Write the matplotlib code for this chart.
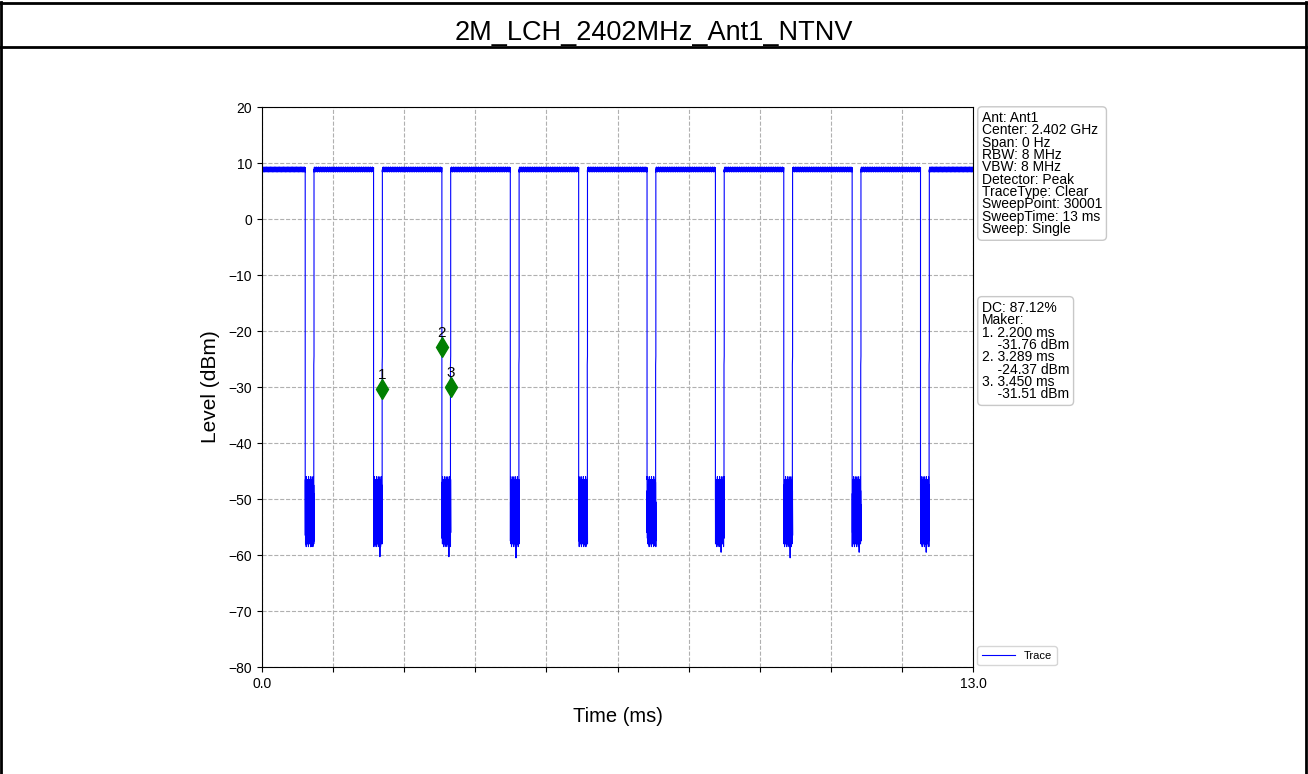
import numpy as np
import matplotlib
matplotlib.use('Agg')
import matplotlib.pyplot as plt
from matplotlib.lines import Line2D

plt.rcParams['font.family'] = ['Liberation Sans', 'DejaVu Sans']

# ---- data ----
title = "2M_LCH_2402MHz_Ant1_NTNV"
sweep_time_ms = 13.0
high_level = 8.8
high_ripple = [8.4, 9.2, 8.5, 9.3, 8.6, 9.1]
gap_start_ms = [0.79, 2.04, 3.289, 4.54, 5.79, 7.04, 8.29, 9.54, 10.79, 12.04]
gap_width_ms = 0.161
gap_edge_level = [-47.0, -46.5, -46.0, -46.0, -46.0, -46.5, -46.0, -46.5, -46.0, -46.5]
gap_floor_min = [-58.5, -60.3, -60.3, -60.5, -58.2, -58.3, -59.5, -60.5, -59.5, -59.5]
noise_upper = [-48.0, -46.5, -49.5, -47.0, -50.5, -46.0, -48.5, -51.0, -47.5, -49.0]
noise_lower = [-56.5, -58.0, -55.5, -57.5, -58.5, -56.0, -57.0, -55.0, -58.0, -57.5]
kink_level = [-26.0, -24.5]

marker_time_ms = [2.200, 3.289, 3.450]
marker_level = [-31.76, -24.37, -31.51]
marker_plot_level = [-30.3, -22.9, -30.0]
marker_ids = ["1", "2", "3"]

info_lines = ["Ant: Ant1", "Center: 2.402 GHz", "Span: 0 Hz", "RBW: 8 MHz",
              "VBW: 8 MHz", "Detector: Peak", "TraceType: Clear",
              "SweepPoint: 30001", "SweepTime: 13 ms", "Sweep: Single"]
duty_cycle = "87.12%"

yticks = [20, 10, 0, -10, -20, -30, -40, -50, -60, -70, -80]


def build_trace():
    t, v = [0.0], [high_level]
    prev = 0.0
    for k, g0 in enumerate(gap_start_ms):
        # ripple on the high level
        seg = np.linspace(prev, g0, 200)
        for i, ts in enumerate(seg):
            t.append(ts)
            v.append(high_ripple[i % len(high_ripple)])
        g1 = g0 + gap_width_ms
        t += [g0, g0]
        v += [high_level, gap_edge_level[k]]
        n = 80
        ts = np.linspace(g0, g1, n)
        for i in range(n):
            t.append(ts[i])
            if i % 2 == 0:
                v.append(noise_upper[(i // 2 + k) % len(noise_upper)])
            else:
                v.append(noise_lower[(i // 2 + 3 * k) % len(noise_lower)])
        # deepest dip of this gap
        mid = 50 + (k % 3) * 6
        v[-n + mid + 1] = gap_floor_min[k]
        t += [g1 - 0.004, g1 - 0.004, g1, g1]
        v += [gap_edge_level[k], kink_level[0], kink_level[1], high_level]
        prev = g1
    seg = np.linspace(prev, sweep_time_ms, 200)
    for i, ts in enumerate(seg):
        t.append(ts)
        v.append(high_ripple[i % len(high_ripple)])
    return np.array(t), np.array(v)


fig = plt.figure(figsize=(13.08, 7.74), dpi=100)
fig.patch.set_facecolor('white')

# table-like frame around the picture
for x0, y0, x1, y1 in [(0.001, 0.0, 0.001, 0.997), (0.9985, 0.0, 0.9985, 0.997),
                       (0.0, 0.9965, 1.0, 0.9965), (0.0, 0.9395, 1.0, 0.9395)]:
    fig.add_artist(Line2D([x0, x1], [y0, y1], color='black', lw=2,
                          transform=fig.transFigure))
fig.text(0.5, 0.957, title, ha='center', va='center', fontsize=19.5)

ax = fig.add_axes([0.2003, 0.1382, 0.5436, 0.7235])
t, v = build_trace()
ax.plot(t, v, color='#0000ff', lw=0.8, label='Trace')

ax.plot(marker_time_ms, marker_plot_level, 'd', color='green', ms=10,
        markeredgecolor='green')
for mx, my, mid in zip(marker_time_ms, marker_plot_level, marker_ids):
    ax.annotate(mid, (mx, my), xytext=(0, 5), textcoords='offset points',
                ha='center', va='bottom', fontsize=11)

ax.set_xlim(0, sweep_time_ms)
ax.set_ylim(-80, 20)
xt = np.linspace(0, sweep_time_ms, 11)
ax.set_xticks(xt)
ax.set_xticklabels(['0.0'] + [''] * 9 + ['13.0'])
ax.set_yticks(yticks)
ax.tick_params(labelsize=10)
ax.grid(True, linestyle='--', color='#b0b0b0', lw=0.8)
ax.set_xlabel("Time (ms)", fontsize=14.5, labelpad=12)
ax.set_ylabel("Level (dBm)", fontsize=15, labelpad=6)

box = dict(boxstyle='round,pad=0.3', facecolor='white', edgecolor='#c8c8c8')
ax.text(1.0125, 0.993, "\n".join(info_lines), transform=ax.transAxes,
        ha='left', va='top', fontsize=10, linespacing=0.85, bbox=box)

mk = ["DC: " + duty_cycle, "Maker:"]
for i, (mt, ml) in enumerate(zip(marker_time_ms, marker_level)):
    mk.append("%d. %.3f ms" % (i + 1, mt))
    mk.append("    %.2f dBm" % ml)
ax.text(1.0125, 0.654, "\n".join(mk), transform=ax.transAxes,
        ha='left', va='top', fontsize=10, linespacing=0.85, bbox=box)

ax.legend(loc='lower left', bbox_to_anchor=(1.006, 0.003), fontsize=8,
          borderaxespad=0, handlelength=3.0)

fig.savefig('out.png', dpi=100)
